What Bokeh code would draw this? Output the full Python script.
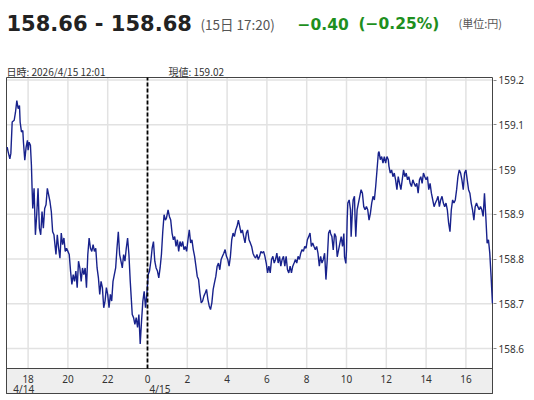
from bokeh.plotting import figure
from bokeh.models import Range1d, FixedTicker, NumeralTickFormatter
from bokeh.core.properties import value
from bokeh.embed import file_html
from bokeh.resources import INLINE

# ---------------- data (minutes relative to 2026/4/15 00:00, price in JPY) ----------------
minutes_a = [-423, -420, -415, -412, -408, -402, -398, -394, -390, -386, -384, -380, -376, -374,
             -370, -366, -362, -360, -357, -353, -350, -348, -346, -342,
             -338, -334, -330, -326, -322, -318, -314, -310, -306, -302, -298, -294, -290, -286,
             -282, -280,
             -276, -272, -268, -264, -260, -256, -252, -248, -244, -240, -236, -232, -228, -224,
             -220, -216, -212, -208, -204, -200, -196, -192, -188, -184, -180, -176, -172, -168,
             -164, -160, -156, -152, -148, -144, -140, -136, -132, -128, -124, -120, -116, -112,
             -108, -104, -100, -96, -92, -88, -84, -80, -76, -72, -68, -64, -60, -56, -52,
             -46, -42, -38, -34, -30, -26, -22, -18, -14, -10, -6, -2, 2, 6, 10, 14, 18, 22, 26,
             30, 34, 38, 42, 46, 50, 54]
price_a = [159.050, 159.039, 159.024, 159.036, 159.106, 159.110, 159.128, 159.154, 159.136, 159.143,
           159.106, 159.084, 159.087, 159.061, 159.021, 159.050, 159.065, 159.043, 159.061, 159.054,
           159.010, 158.958, 158.913, 158.958,
           158.854, 158.899, 158.958, 158.869, 158.854, 158.906, 158.869, 158.913, 158.921, 158.958,
           158.943, 158.928, 158.906, 158.861, 158.854, 158.839,
           158.810, 158.854, 158.824, 158.802, 158.858, 158.832, 158.847, 158.817, 158.824, 158.817,
           158.810, 158.773, 158.743, 158.765, 158.750, 158.773, 158.736, 158.795, 158.780, 158.750,
           158.780, 158.765, 158.780, 158.736, 158.810, 158.847, 158.824, 158.817, 158.832, 158.817,
           158.824, 158.780, 158.758, 158.721, 158.750, 158.736, 158.691, 158.706, 158.736, 158.721,
           158.691, 158.721, 158.706, 158.750, 158.765, 158.780, 158.824, 158.861, 158.810, 158.795,
           158.780, 158.810, 158.795, 158.824, 158.847, 158.810, 158.750,
           158.676, 158.669, 158.654, 158.669, 158.647, 158.676, 158.610, 158.661, 158.706, 158.728,
           158.691, 158.721, 158.765, 158.773, 158.795, 158.824, 158.839, 158.795, 158.780, 158.773,
           158.758, 158.780, 158.810, 158.861, 158.899, 158.887]

minutes_b = [57, 62, 66, 70, 74, 78, 82, 86, 90, 94, 98, 102, 106, 110, 114, 118, 122, 126, 130,
             134, 138, 142, 146, 150, 154, 158, 162, 166, 170, 174, 178, 182, 186, 190, 194, 198,
             202, 206, 210, 214, 218, 222, 226, 230, 234, 238, 242, 246, 250, 254, 258, 262, 266,
             270, 274, 278, 282, 286, 290, 294, 298, 302, 306, 310, 314, 318, 322, 326, 330, 334,
             338, 342, 346, 350, 354, 358, 362, 366, 370, 374, 378, 382, 386, 390, 394, 398, 402,
             406, 410, 414, 418, 422, 426, 430, 434, 438, 442, 446, 450, 454, 458, 462, 466, 470,
             474, 478, 482, 486, 490, 494, 498, 502, 506, 510, 514, 518, 522, 526, 530, 534, 538,
             542, 546, 550]
price_b = [158.891, 158.910, 158.895, 158.887, 158.858, 158.843, 158.850, 158.828, 158.843, 158.817,
           158.839, 158.828, 158.839, 158.821, 158.828, 158.817, 158.843, 158.865, 158.836, 158.843,
           158.821, 158.806, 158.784, 158.761, 158.754, 158.724, 158.702, 158.706, 158.717, 158.724,
           158.732, 158.710, 158.695, 158.687, 158.702, 158.732, 158.747, 158.761, 158.784, 158.791,
           158.776, 158.799, 158.806, 158.813, 158.821, 158.806, 158.799, 158.784, 158.806, 158.843,
           158.858, 158.850, 158.865, 158.873, 158.887, 158.873, 158.858, 158.865, 158.850, 158.836,
           158.858, 158.865, 158.843, 158.836, 158.828, 158.813, 158.806, 158.802, 158.810, 158.799,
           158.806, 158.817, 158.813, 158.817, 158.806, 158.791, 158.769, 158.784, 158.769, 158.799,
           158.806, 158.791, 158.799, 158.813, 158.791, 158.806, 158.784, 158.799, 158.806, 158.784,
           158.806, 158.776, 158.769, 158.784, 158.769, 158.784, 158.791, 158.799, 158.791, 158.806,
           158.799, 158.813, 158.821, 158.817, 158.828, 158.824, 158.843, 158.850, 158.858, 158.828,
           158.836, 158.828, 158.821, 158.828, 158.813, 158.784, 158.806, 158.791, 158.799, 158.813,
           158.754, 158.799, 158.858, 158.865]

minutes_c = [552, 556, 560, 564, 568, 572, 576, 580, 584, 588, 592, 594, 598, 600, 602, 604, 608,
             612, 614, 618, 620, 624, 626, 628, 632, 636, 640, 644, 648, 652, 656, 660, 664, 668,
             672, 676, 680, 684, 688, 692, 696, 698, 702, 706, 710, 714, 718, 722, 726, 728, 732,
             736, 740, 744, 748, 752, 756, 760, 764, 768, 772, 776, 780, 784, 788, 792, 796, 800,
             804, 808, 812, 816, 820, 824, 828, 832, 836, 840, 844, 848, 852, 856, 860, 864, 868,
             872, 876, 880, 884, 888, 892, 896, 900, 904, 908, 912, 916, 920, 924, 928, 932, 936,
             940, 944, 948, 952, 956, 960, 964, 968, 972, 976, 980, 984, 988, 992, 996, 1000, 1004,
             1008, 1012, 1016, 1020, 1024, 1028, 1032, 1036, 1040]
price_c = [158.857, 158.850, 158.820, 158.857, 158.850, 158.805, 158.820, 158.835, 158.850, 158.828,
           158.857, 158.805, 158.790, 158.820, 158.887, 158.925, 158.932, 158.910, 158.850, 158.910,
           158.932, 158.940, 158.887, 158.850, 158.910, 158.925, 158.940, 158.955, 158.947, 158.917,
           158.910, 158.917, 158.910, 158.887, 158.902, 158.925, 158.940, 158.932, 158.962, 158.999,
           159.037, 159.040, 159.022, 159.029, 159.014, 159.029, 159.014, 159.029, 159.022, 159.007,
           158.992, 158.999, 158.984, 158.992, 158.977, 158.955, 158.984, 158.969, 158.955, 158.977,
           158.999, 158.984, 158.992, 158.977, 158.984, 158.969, 158.962, 158.977, 158.969, 158.962,
           158.969, 158.947, 158.977, 158.984, 158.969, 158.992, 158.984, 158.977, 158.984, 158.955,
           158.969, 158.947, 158.932, 158.917, 158.925, 158.932, 158.940, 158.917, 158.932, 158.940,
           158.925, 158.917, 158.925, 158.910, 158.880, 158.861, 158.910, 158.932, 158.925, 158.932,
           158.955, 158.984, 158.999, 158.992, 158.977, 158.955, 158.992, 158.999, 158.977, 158.955,
           158.947, 158.925, 158.910, 158.887, 158.917, 158.925, 158.917, 158.910, 158.917, 158.910,
           158.895, 158.947, 158.895, 158.835, 158.843, 158.813, 158.760, 158.701]

hour_ticks = [-6, -4, -2, 0, 2, 4, 6, 8, 10, 12, 14, 16]
hour_labels = ["18", "20", "22", "0", "2", "4", "6", "8", "10", "12", "14", "16"]
date_ticks = [-6, 0]
date_labels = ["4/14", "4/15"]
price_ticks = [158.6, 158.7, 158.8, 158.9, 159.0, 159.1, 159.2]

title_text = "158.66 - 158.68"
time_text = "(15日 17:20)"
change_text = "\u22120.40"
change_pct_text = "(\u22120.25%)"
unit_text = "(単位:円)"
cursor_time_text = "日時: 2026/4/15  12:01"
cursor_value_text = "現値: 159.02"

# ---------------- geometry (page pixels) ----------------
PW, PH = 534, 400
HDR_H = 56                       # header strip height
FL, FR, FT, FB = 5, 493, HDR_H, 394   # chart frame (page px)
PX_PER_H = 19.9                  # pixels per hour
X_ZERO = 147                     # page x of 4/15 00:00
PX_PER_Y = 447.5                 # pixels per 1 yen
Y_REF, Y_REF_PX = 159.2, 79.5


def hx(px):
    return (px - X_ZERO) / PX_PER_H


def py2v(py):
    return Y_REF - (py - Y_REF_PX) / PX_PER_Y


X0, X1 = hx(FL), hx(FR)
Y0, Y1 = py2v(FB), py2v(FT)
BOX_L, BOX_R = hx(6), hx(492)
BOX_T = py2v(77)
BAND_TOP, BAND_BOT = py2v(368), py2v(393)

x_hours = [m / 60 for m in minutes_a + minutes_b + minutes_c]
prices = price_a + price_b + price_c

FONT = "Noto Sans"
HFONT = "DejaVu Sans"
JFONT = "Noto Sans CJK JP"

# ---------------- header (separate root, page coordinates) ----------------
hdr = figure(width=PW, height=HDR_H, x_range=Range1d(0, PW), y_range=Range1d(HDR_H, 0),
             x_axis_location=None, y_axis_location=None, output_backend="svg",
             toolbar_location=None, min_border=0, min_border_left=0, min_border_right=0,
             min_border_top=0, min_border_bottom=0, outline_line_color=None)
hdr.title.visible = False
hdr.xgrid.visible = False
hdr.ygrid.visible = False


def htext(px, py, text, size, color, bold=False, font=FONT):
    hdr.text(x=[px], y=[py], text=[text], text_font=value(font), text_font_size=value(size),
             text_color=color, text_font_style="bold" if bold else "normal",
             text_baseline="alphabetic", text_align="left")


htext(6, 23, title_text, "21px", "#222222", bold=True, font=HFONT)
htext(200, 23, time_text, "13.5px", "#555555", font=JFONT)
htext(297, 23, change_text, "15.5px", "#1e8f1e", bold=True, font=HFONT)
htext(358, 23, change_pct_text, "15.5px", "#1e8f1e", bold=True, font=HFONT)
htext(458, 22.5, unit_text, "11px", "#555555", font=JFONT)

# ---------------- chart ----------------
p = figure(width=PW, height=PH - HDR_H, x_range=Range1d(X0, X1), y_range=Range1d(Y0, Y1),
           x_axis_location=None, y_axis_location="right",
           output_backend="svg", toolbar_location=None,
           min_border_left=FL, min_border_right=PW - FR,
           min_border_top=0, min_border_bottom=PH - FB)
p.title.visible = False
p.background_fill_color = "white"
p.border_fill_color = "white"
p.outline_line_color = None
p.xgrid.visible = False
p.ygrid.visible = False

ax = p.yaxis[0]
ax.ticker = FixedTicker(ticks=price_ticks)
ax.formatter = NumeralTickFormatter(format="0.[0]")
ax.axis_line_color = None
ax.major_tick_in = 0
ax.major_tick_out = 3
ax.major_tick_line_color = "#888888"
ax.minor_tick_line_color = None
ax.major_label_standoff = 2
ax.major_label_text_font = FONT
ax.major_label_text_font_size = "10px"
ax.major_label_text_color = "#333333"

GRID = dict(line_color="#e2e2e2", line_width=1.5)
# vertical grid lines (every 2 hours) and horizontal grid lines (every 0.1 yen)
p.segment(x0=hour_ticks, y0=[BAND_TOP] * len(hour_ticks),
          x1=hour_ticks, y1=[BOX_T] * len(hour_ticks), **GRID)
p.segment(x0=[BOX_L] * len(price_ticks), y0=price_ticks,
          x1=[BOX_R] * len(price_ticks), y1=price_ticks, **GRID)

# date axis band and plot box
p.quad(left=[BOX_L], right=[BOX_R], bottom=[BAND_BOT], top=[BAND_TOP],
       fill_color="#eeeeee", line_color="#444444", line_width=1)
p.quad(left=[BOX_L], right=[BOX_R], bottom=[BAND_BOT], top=[BOX_T],
       fill_color=None, line_color="#444444", line_width=1)

# price line
p.line(x_hours, prices, line_color="#18228c", line_width=1.4)

# day separator
p.segment(x0=[0], y0=[BAND_TOP], x1=[0], y1=[BOX_T], line_color="black",
          line_width=1.8, line_dash="4 2")

TXT = dict(text_font=value(FONT), text_font_size=value("10px"), text_color="#333333",
           text_baseline="middle")
# hour and date labels in band
p.text(x=hour_ticks, y=[py2v(378)] * len(hour_ticks), text=hour_labels,
       text_align="center", **TXT)
p.text(x=date_ticks[:1], y=[py2v(388.5)], text=date_labels[:1],
       text_align="right", x_offset=6, **TXT)
p.text(x=date_ticks[1:], y=[py2v(388.5)], text=date_labels[1:],
       text_align="left", x_offset=2, **TXT)

# cursor info row
INFO = dict(text_font=value(JFONT), text_font_size=value("10px"), text_color="#333333",
            text_baseline="alphabetic", text_align="left")
p.text(x=[hx(6)], y=[py2v(71)], text=[cursor_time_text], **INFO)
p.text(x=[hx(168)], y=[py2v(71)], text=[cursor_value_text], **INFO)

open("out.html", "w").write(file_html([hdr, p], INLINE))
